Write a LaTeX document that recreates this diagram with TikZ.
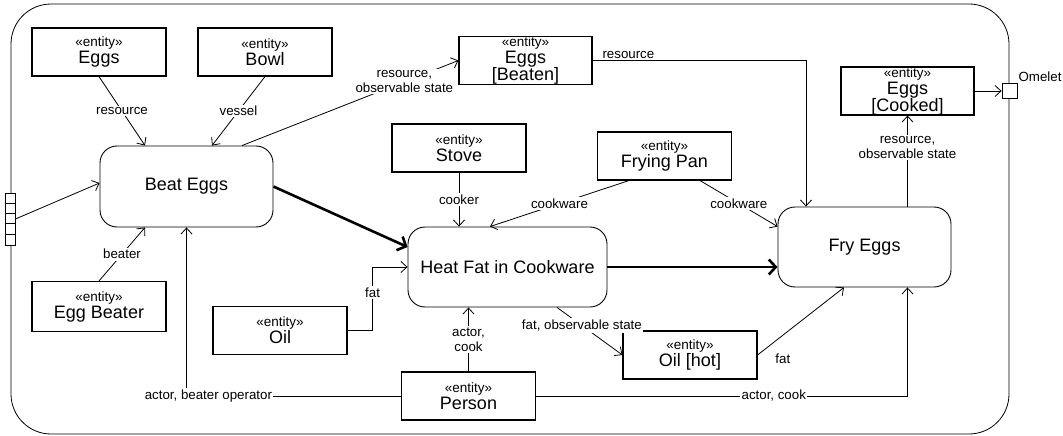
\documentclass[tikz,border=0pt]{standalone}
\usepackage{fontspec}
\setmainfont{Liberation Sans}
\usetikzlibrary{arrows.meta}

\tikzset{
  entity/.style={draw, line width=1.1pt, minimum width=134pt, minimum height=48pt,
    inner sep=0pt, align=center, font=\fontsize{18}{17}\selectfont},
  action/.style={draw, line width=0.9pt, rounded corners=17pt, minimum width=173pt,
    minimum height=81pt, font=\fontsize{18}{20}\selectfont},
  flow/.style={line width=0.8pt, -{Straight Barb[length=6pt,width=11pt]}},
  ctrl/.style={line width=2.6pt, -{Straight Barb[length=7pt,width=15pt]}},
  lbl/.style={fill=white, inner sep=1.5pt, align=center, font=\fontsize{13.3}{15}\selectfont},
}
\newcommand{\stereo}{{\fontsize{13.5}{17}\selectfont «entity»}}

\begin{document}
\begin{tikzpicture}[x=1pt,y=-1pt]
\useasboundingbox (0,0) rectangle (1063,436);
% activity frame
\draw[line width=0.8pt, rounded corners=40pt] (11,4) rectangle (1009,434);

% actions
\node[action] (beat) at (186.5,186.5) {Beat Eggs};
\node[action, minimum width=199pt, minimum height=80pt] (heat) at (507.5,267) {Heat Fat in Cookware};
\node[action, minimum height=80pt] (fry) at (864.5,247) {Fry Eggs};

% entities
\node[entity] (eggs) at (99,52) {\stereo\\Eggs};
\node[entity] (bowl) at (265,52) {\stereo\\Bowl};
\node[entity, minimum width=133pt, minimum height=47pt] (beaten) at (525.5,60.5) {\stereo\\Eggs\\{[Beaten]}};
\node[entity] (stove) at (459,148) {\stereo\\Stove};
\node[entity] (pan) at (664.5,156) {\stereo\\Frying Pan};
\node[entity, minimum width=133pt] (cooked) at (907.5,91) {\stereo\\Eggs\\{[Cooked]}};
\node[entity, minimum height=50pt] (beater) at (99,306.5) {\stereo\\Egg Beater};
\node[entity] (oil) at (280,330.5) {\stereo\\Oil};
\node[entity] (hot) at (690,355) {\stereo\\Oil [hot]};
\node[entity] (person) at (468.5,396) {\stereo\\Person};

% pins
\node[draw, line width=0.8pt, fill=white, minimum width=10pt, minimum height=52pt, inner sep=0pt] (inpin) at (10,219) {};
\foreach \i in {1,...,4}
  \draw[line width=0.8pt] ([yshift=-\i*10.4pt]inpin.north west) -- ([yshift=-\i*10.4pt]inpin.north east);
\node[draw, line width=0.8pt, fill=white, minimum size=15pt, inner sep=0pt,
  label={[anchor=south west, inner sep=1pt, font=\fontsize{13.3}{15}\selectfont]north east:Omelet}] (outpin) at (1009.5,91) {};

% control flow
\draw[ctrl] (beat.east) -- ([yshift=20pt]heat.west);
\draw[ctrl] (heat.east) -- ([yshift=-20pt]fry.west);

% object flows
\draw[flow] (inpin.east) -- ([yshift=3.5pt]beat.west);
\draw[flow] (eggs.south) -- node[lbl]{resource} ([xshift=-41.5pt]beat.north);
\draw[flow] (bowl.south) -- node[lbl]{vessel} ([xshift=25.5pt]beat.north);
\draw[flow] ([xshift=55.5pt]beat.north) -- node[lbl, pos=0.75]{resource,\\observable state} (beaten.west);
\draw[flow] (beaten.east) -| node[lbl, pos=0.084, above]{resource} ([xshift=-58.5pt]fry.north);
\draw[flow] (beater.north) -- node[lbl]{beater} ([xshift=-41.5pt]beat.south);
\draw[flow] (stove.south) -- node[lbl]{cooker} (stove.south |- heat.north);
\draw[flow] ([xshift=-35.5pt]pan.south) -- node[lbl]{cookware} ([xshift=-17.5pt]heat.north);
\draw[flow] ([xshift=35.5pt]pan.south) -- node[lbl]{cookware} ([yshift=-20pt]fry.north west);
\draw[flow] (oil.east) -- ++(25,0) |- node[lbl, pos=0.3]{fat} (heat.west);
\draw[flow] ([xshift=49.5pt]heat.south) -- node[lbl, pos=0.38]{fat, observable state} (hot.west);
\draw[flow] (hot.east) -- node[lbl, at start, anchor=west, xshift=16pt, yshift=-4pt, fill=none]{fat} ([xshift=-20.5pt]fry.south);
\draw[flow] (cooked.south |- fry.north) -- node[lbl, pos=0.65]{resource,\\observable state} (cooked.south);
\draw[flow] (cooked.east) -- (outpin.west);
\draw[flow] (person.west) -| node[lbl, pos=0.449]{actor, beater operator} (beat.south);
\draw[flow] (person.north) -- node[lbl]{actor,\\cook} (person.north |- heat.south);
\draw[flow] (person.east) -| node[lbl, pos=0.32]{actor, cook} (cooked.south |- fry.south);
\end{tikzpicture}
\end{document}
